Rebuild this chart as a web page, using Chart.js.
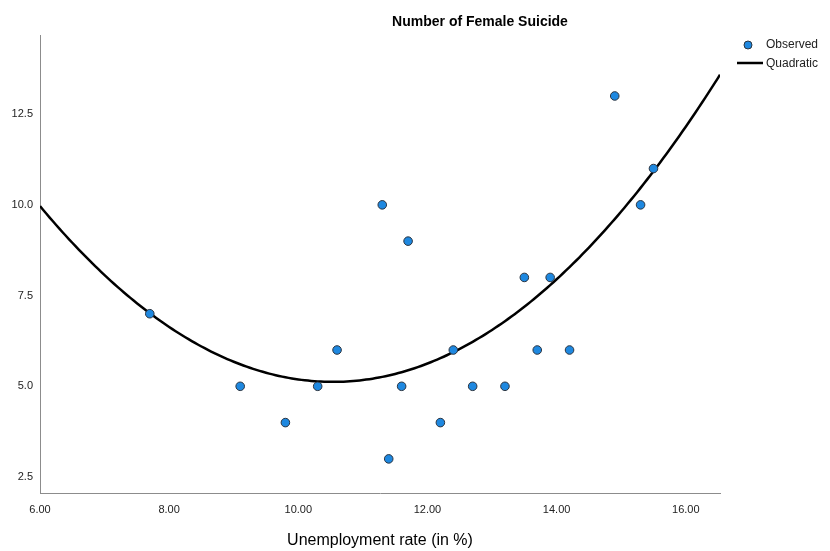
<!DOCTYPE html>
<html>
<head>
<meta charset="utf-8">
<script src="https://cdn.jsdelivr.net/npm/chart.js@4/dist/chart.umd.min.js"></script>
<style>
  html, body { margin: 0; padding: 0; background: #fff; }
  #wrap { width: 830px; height: 551px; position: relative; }
</style>
</head>
<body>
<div id="wrap"><canvas id="c" width="830" height="551"></canvas></div>
<script>
// ---- data ----
const unemployment = [7.7, 9.1, 9.8, 10.3, 10.6, 11.3, 11.4, 11.6, 11.7, 12.2, 12.4, 12.7, 13.2, 13.5, 13.7, 13.9, 14.2, 14.9, 15.3, 15.5];
const femaleSuicide = [7, 5, 4, 5, 6, 10, 3, 5, 9, 4, 6, 5, 5, 8, 6, 8, 6, 13, 10, 11];
const xTicks = [6, 8, 10, 12, 14, 16];
const yTicks = [2.5, 5.0, 7.5, 10.0, 12.5];
const chartTitle = "Number of Female Suicide";
const xTitle = "Unemployment rate (in %)";
const legendLabels = ["Observed", "Quadratic"];

// ---- quadratic least-squares fit of the observed data ----
function quadFit(xs, ys) {
  let n = xs.length, s = [0,0,0,0,0], t = [0,0,0];
  for (let i = 0; i < n; i++) {
    let x = xs[i], y = ys[i];
    s[0] += 1; s[1] += x; s[2] += x*x; s[3] += x*x*x; s[4] += x*x*x*x;
    t[0] += y; t[1] += x*y; t[2] += x*x*y;
  }
  const A = [[s[0], s[1], s[2], t[0]], [s[1], s[2], s[3], t[1]], [s[2], s[3], s[4], t[2]]];
  for (let i = 0; i < 3; i++) {
    for (let k = i + 1; k < 3; k++) {
      const f = A[k][i] / A[i][i];
      for (let j = i; j < 4; j++) A[k][j] -= f * A[i][j];
    }
  }
  const c = [0,0,0];
  for (let i = 2; i >= 0; i--) {
    let v = A[i][3];
    for (let j = i + 1; j < 3; j++) v -= A[i][j] * c[j];
    c[i] = v / A[i][i];
  }
  return c;
}
const coef = quadFit(unemployment, femaleSuicide);
const xMin = 6, xMax = 16.53, yMin = 2.06, yMax = 14.68;
const fitY = x => coef[0] + coef[1]*x + coef[2]*x*x;
const curve = [];
for (let x = xMin; x < xMax; x += 0.05) curve.push({x: x, y: fitY(x)});
curve.push({x: xMax, y: fitY(xMax)});

const FONT = "'Liberation Sans', Arial, sans-serif";
const markerFill = '#1e88e0';
const markerBorder = '#2b3440';

const decor = {
  id: 'decor',
  afterDraw(chart) {
    const ctx = chart.ctx;
    ctx.save();
    ctx.fillStyle = '#000';
    ctx.font = "bold 14px " + FONT;
    ctx.textAlign = 'center';
    ctx.textBaseline = 'middle';
    ctx.fillText(chartTitle, 480, 22);
    // legend
    ctx.font = "12px " + FONT;
    ctx.textAlign = 'left';
    ctx.beginPath();
    ctx.arc(748, 45, 4, 0, Math.PI * 2);
    ctx.fillStyle = markerFill; ctx.fill();
    ctx.lineWidth = 1; ctx.strokeStyle = markerBorder; ctx.stroke();
    ctx.fillStyle = '#222';
    ctx.fillText(legendLabels[0], 766, 45);
    ctx.beginPath();
    ctx.moveTo(737, 63); ctx.lineTo(763, 63);
    ctx.lineWidth = 2.5; ctx.strokeStyle = '#000'; ctx.stroke();
    ctx.fillText(legendLabels[1], 766, 64);
    ctx.restore();
  }
};

new Chart(document.getElementById('c'), {
  type: 'scatter',
  data: {
    datasets: [
      {
        label: legendLabels[1],
        data: curve,
        showLine: true,
        borderColor: '#000',
        borderWidth: 2.5,
        pointRadius: 0,
        pointHoverRadius: 0,
        tension: 0,
        order: 2
      },
      {
        label: legendLabels[0],
        data: unemployment.map((x, i) => ({x: x, y: femaleSuicide[i]})),
        backgroundColor: markerFill,
        borderColor: markerBorder,
        borderWidth: 1,
        pointRadius: 4.3,
        order: 1
      }
    ]
  },
  options: {
    responsive: false,
    animation: false,
    layout: { padding: { left: 0, right: 110, top: 35, bottom: 0 } },
    plugins: { legend: { display: false }, tooltip: { enabled: false }, title: { display: false } },
    scales: {
      x: {
        type: 'linear', min: xMin, max: xMax,
        grid: { display: false, drawTicks: false },
        border: { display: true, color: '#8c8c8c', width: 1 },
        afterBuildTicks: s => { s.ticks = xTicks.map(v => ({value: v})); },
        afterFit: s => { s.height = 58; },
        ticks: { padding: 10, color: '#222', font: { family: FONT, size: 11 }, callback: v => Number(v).toFixed(2), maxRotation: 0 },
        title: { display: true, text: xTitle, color: '#000', font: { family: FONT, size: 16 }, padding: { top: 0, bottom: 1 } }
      },
      y: {
        type: 'linear', min: yMin, max: yMax,
        grid: { display: false, drawTicks: false },
        border: { display: true, color: '#8c8c8c', width: 1 },
        afterBuildTicks: s => { s.ticks = yTicks.map(v => ({value: v})); },
        afterFit: s => { s.width = 40; },
        ticks: { padding: 7, color: '#222', font: { family: FONT, size: 11 }, callback: v => Number(v).toFixed(1) }
      }
    }
  },
  plugins: [decor]
});
</script>
</body>
</html>
